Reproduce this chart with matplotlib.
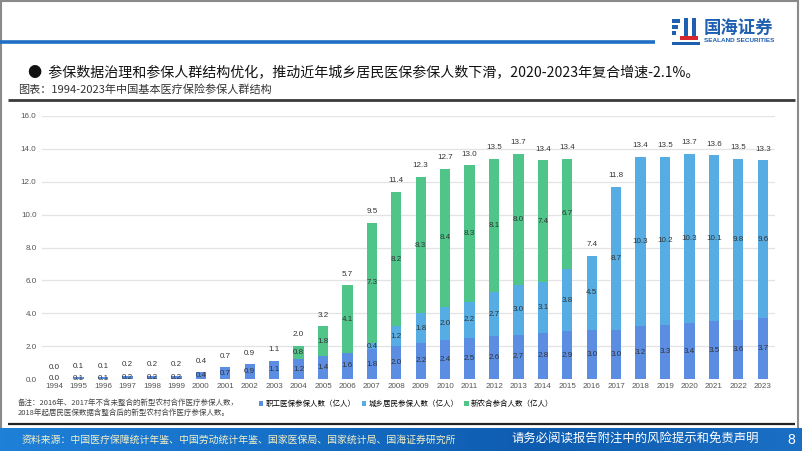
import matplotlib.pyplot as plt
import matplotlib.patches as mpatches
from matplotlib.colors import LinearSegmentedColormap
import numpy as np

plt.rcParams['font.family'] = ['Liberation Sans', 'Noto Sans CJK SC', 'DejaVu Sans']

# data (亿人)
years = [str(y) for y in range(1994, 2024)]
employee = [0.0, 0.1, 0.1, 0.2, 0.2, 0.2, 0.4, 0.7, 0.9, 1.1,
            1.2, 1.4, 1.6, 1.8, 2.0, 2.2, 2.4, 2.5, 2.6, 2.7,
            2.8, 2.9, 3.0, 3.0, 3.2, 3.3, 3.4, 3.5, 3.6, 3.7]
resident = [None] * 13 + [0.4, 1.2, 1.8, 2.0, 2.2, 2.7, 3.0,
                          3.1, 3.8, 4.5, 8.7, 10.3, 10.2, 10.3, 10.1, 9.8, 9.6]
ncms = [None] * 10 + [0.8, 1.8, 4.1, 7.3, 8.2, 8.3, 8.4, 8.3, 8.1, 8.0,
                      7.4, 6.7] + [None] * 8
totals = [0.0, 0.1, 0.1, 0.2, 0.2, 0.2, 0.4, 0.7, 0.9, 1.1,
          2.0, 3.2, 5.7, 9.5, 11.4, 12.3, 12.7, 13.0, 13.5, 13.7,
          13.4, 13.4, 7.4, 11.8, 13.4, 13.5, 13.7, 13.6, 13.5, 13.3]
series_names = ['职工医保参保人数（亿人）', '城乡居民参保人数（亿人）', '新农合参合人数（亿人）']
colors = ['#5b8de3', '#56ade3', '#4fc58a']

W, H = 802, 451
fig = plt.figure(figsize=(W / 100, H / 100), dpi=100)

# page decoration in pixel coordinates
bg = fig.add_axes([0, 0, 1, 1], zorder=0)
bg.set_xlim(0, W)
bg.set_ylim(H, 0)
bg.axis('off')
bg.add_patch(mpatches.Rectangle((1, 1), 797, 428, fill=False, ec='#8a8a8a', lw=1.5))
bg.plot([0, 655], [42, 42], color='#1f6fc5', lw=2.6, solid_capstyle='butt')
bg.plot([8, 795], [100, 100], color='#3a3a3a', lw=2.0, solid_capstyle='butt')
bg.plot([8, 795], [424, 424], color='#222222', lw=1.6, solid_capstyle='butt')

# logo
for i, yy in enumerate([19, 25, 31]):
    bg.add_patch(mpatches.Rectangle((672, yy), 8 - i * 2, 4, color='#1f5fb0', lw=0))
bg.add_patch(mpatches.Rectangle((684, 18), 4, 20, color='#1f5fb0', lw=0))
bg.add_patch(mpatches.Rectangle((692, 18), 4, 20, color='#1f5fb0', lw=0))
bg.add_patch(mpatches.Rectangle((680, 36), 18, 4, color='#d8262d', lw=0))
bg.add_patch(mpatches.Rectangle((672, 42), 28, 3, color='#1f5fb0', lw=0))
bg.text(704, 28, '国海证券', fontsize=12.5, color='#1f5fb0', fontweight='bold',
        va='center', ha='left', family=['Noto Sans CJK SC'])
bg.text(704, 41, 'SEALAND SECURITIES', fontsize=4.6, color='#1f5fb0', fontweight='bold',
        va='center', ha='left')

bg.text(28, 73, '●  参保数据治理和参保人群结构优化，推动近年城乡居民医保参保人数下滑，2020-2023年复合增速-2.1%。',
        fontsize=10.1, color='#111111', va='center', ha='left',
        family=['Noto Sans CJK SC', 'DejaVu Sans'])
bg.text(18, 90, '图表：1994-2023年中国基本医疗保险参保人群结构', fontsize=8.0, color='#333333',
        va='center', ha='left', family=['Noto Sans CJK SC', 'DejaVu Sans'])

bg.text(18, 403, '备注：2016年、2017年不含未整合的新型农村合作医疗参保人数，', fontsize=5.4,
        color='#444444', va='center', ha='left', family=['Noto Sans CJK SC'])
bg.text(18, 413, '2018年起居民医保数据含整合后的新型农村合作医疗参保人数。', fontsize=5.4,
        color='#444444', va='center', ha='left', family=['Noto Sans CJK SC'])

# footer gradient bar
grad = np.linspace(0, 1, 256).reshape(1, -1)
cmap = LinearSegmentedColormap.from_list('ft', ['#1f80d8', '#1670c8', '#0e5cb0', '#1a6fc4'])
bg.imshow(grad, extent=(0, W, 451, 428), aspect='auto', cmap=cmap, zorder=1)
bg.set_xlim(0, W)
bg.set_ylim(H, 0)
bg.text(22, 439.5, '资料来源：中国医疗保障统计年鉴、中国劳动统计年鉴、国家医保局、国家统计局、国海证券研究所',
        fontsize=7.1, color='#f3f0c8', va='center', ha='left', family=['Noto Sans CJK SC'], zorder=2)
bg.text(511, 439.5, '请务必阅读报告附注中的风险提示和免责声明', fontsize=8.9, color='white',
        va='center', ha='left', family=['Noto Sans CJK SC'], zorder=2)
bg.text(791, 439.5, '8', fontsize=10, color='white', va='center', ha='center', zorder=2)

# chart
ax = fig.add_axes([42 / W, 1 - 379 / H, (775 - 42) / W, (379 - 116) / H], zorder=2)
ax.patch.set_alpha(0)
x = np.arange(len(years))
emp = np.array(employee, dtype=float)
res = np.array([v if v is not None else 0 for v in resident], dtype=float)
ncm = np.array([v if v is not None else 0 for v in ncms], dtype=float)
bw = 0.42
b1 = ax.bar(x, emp, bw, color=colors[0], label=series_names[0], zorder=3)
b2 = ax.bar(x, res, bw, bottom=emp, color=colors[1], label=series_names[1], zorder=3)
b3 = ax.bar(x, ncm, bw, bottom=emp + res, color=colors[2], label=series_names[2], zorder=3)

lab = dict(fontsize=5.8, color='#333333', ha='center', va='center', zorder=4)
for i in range(len(years)):
    ax.text(x[i], emp[i] / 2, f'{employee[i]:.1f}', **lab)
    if resident[i] is not None:
        ax.text(x[i], emp[i] + res[i] / 2, f'{resident[i]:.1f}', **lab)
    if ncms[i] is not None:
        ax.text(x[i], emp[i] + res[i] + ncm[i] / 2, f'{ncms[i]:.1f}', **lab)
    top = emp[i] + res[i] + ncm[i]
    ax.annotate(f'{totals[i]:.1f}', (x[i], top), xytext=(0, 5.5), textcoords='offset points',
                fontsize=5.8, color='#333333', ha='center', va='bottom', zorder=4)

ax.set_xlim(-0.5, len(years) - 0.5)
ax.set_ylim(0, 16)
ax.set_yticks(np.arange(0, 17, 2))
ax.set_yticklabels([f'{v:.1f}' for v in np.arange(0, 17, 2)])
ax.set_xticks(x)
ax.set_xticklabels(years)
ax.tick_params(axis='both', length=0, labelsize=5.8, labelcolor='#555555')
ax.tick_params(axis='x', pad=3)
ax.tick_params(axis='y', pad=4)
ax.grid(axis='y', color='#e3e3e3', lw=0.9, zorder=0)
for s in ax.spines.values():
    s.set_visible(False)

ax.legend(handles=[b1, b2, b3], loc='center left', bbox_to_anchor=(252 / W, 1 - 404 / H),
          bbox_transform=fig.transFigure, ncol=3, frameon=False,
          handlelength=0.6, handleheight=0.6, handletextpad=0.3, columnspacing=0.8,
          prop={'family': ['Noto Sans CJK SC'], 'size': 5.4})

fig.savefig('out.png', dpi=100)
